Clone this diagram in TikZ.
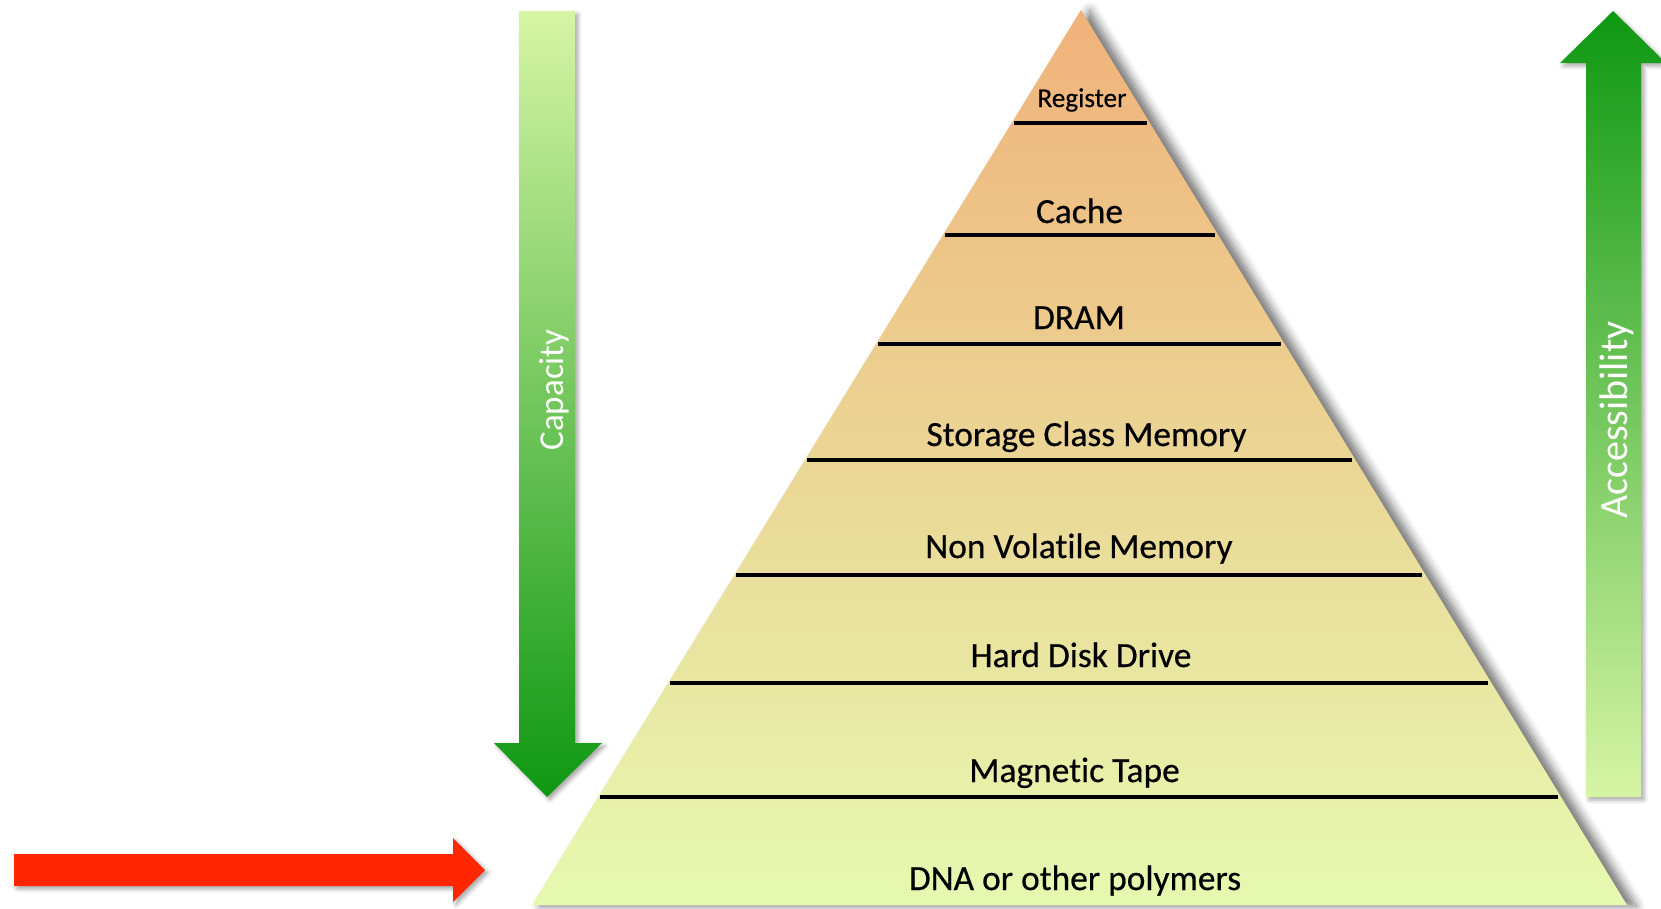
\documentclass[tikz,border=0pt]{standalone}
\usepackage{fontspec}
\setmainfont[Ligatures=NoCommon]{Carlito}
\newfontfamily\labelfont[Ligatures=NoCommon, FakeBold=0.5]{Carlito}
\usetikzlibrary{shadows.blur,calc}
\definecolor{pyrtop}{RGB}{240,178,122}
\definecolor{pyrmid}{RGB}{237,216,152}
\definecolor{pyrbot}{RGB}{230,249,176}
\definecolor{gLight}{RGB}{214,245,165}
\definecolor{gMid}{RGB}{112,200,92}
\definecolor{gDark}{RGB}{14,152,18}
\definecolor{redarrow}{RGB}{255,38,0}
\tikzset{
  layerline/.style={line width=4pt, black},
  layertext/.style={anchor=base, inner sep=0pt, font=\labelfont\fontsize{35.4}{40}\selectfont},
  sidetext/.style={anchor=base, inner sep=0pt, rotate=90, text=white},
  softshadow/.style={blur shadow={shadow xshift=3pt, shadow yshift=-3pt, shadow blur radius=4pt, shadow opacity=35}},
}
\begin{document}
\begin{tikzpicture}[x=1pt,y=-1pt]
\useasboundingbox (0,0) rectangle (1661,908);
% pyramid
\coordinate (apex) at (1081,10);
\coordinate (bl) at (532,905);
\coordinate (br) at (1627,905);
\shade[blur shadow={shadow xshift=9pt, shadow yshift=-1pt, shadow blur radius=9pt, shadow opacity=55},
  top color=pyrtop, middle color=pyrmid, bottom color=pyrbot]
  (apex) -- (br) -- (bl) -- cycle;
% layer lines
\draw[layerline] (1014,123) -- (1147,123);
\draw[layerline] (945,235) -- (1215,235);
\draw[layerline] (878,344) -- (1281,344);
\draw[layerline] (807,460) -- (1352,460);
\draw[layerline] (736,575) -- (1422,575);
\draw[layerline] (670,683) -- (1488,683);
\draw[layerline] (600,797) -- (1558,797);
% layer labels
\node[anchor=base, inner sep=0pt, font=\labelfont\fontsize{27.2}{30}\selectfont] (reg) at (1082,107) {Register};
\node[layertext] (cache) at (1079.5,223) {Cache};
\node[layertext] (dram) at (1079,329) {DRAM};
\node[layertext] (scm) at (1086.5,446) {Storage Class Memory};
\node[layertext] (nvm) at (1079,558) {Non Volat\kern0pt ile Memory};
\node[layertext] (hdd) at (1081,667) {Hard Disk Drive};
\node[layertext] (tape) at (1074.5,782) {Magnetic Tape};
\node[layertext] (dna) at (1075,890) {DNA or other polymers};
% capacity arrow (down)
\shade[softshadow, top color=gLight, middle color=gMid, bottom color=gDark]
  (519,11) -- (575,11) -- (575,743) -- (602,743) -- (547,797) -- (494,743) -- (519,743) -- cycle;
\node[sidetext, font=\fontsize{35}{40}\selectfont] (cap) at (563,390) {Capacity};
% accessibility arrow (up)
\shade[softshadow, top color=gDark, middle color=gMid, bottom color=gLight]
  (1613,11) -- (1666,63) -- (1641,63) -- (1641,797) -- (1586,797) -- (1586,63) -- (1560,63) -- cycle;
\node[sidetext, font=\fontsize{40}{44}\selectfont] (acc) at (1627,420) {Accessibility};
% red arrow
\fill[softshadow, redarrow]
  (14,854) -- (453,854) -- (453,838) -- (485,870) -- (453,902) -- (453,886) -- (14,886) -- cycle;
\end{tikzpicture}
\end{document}
